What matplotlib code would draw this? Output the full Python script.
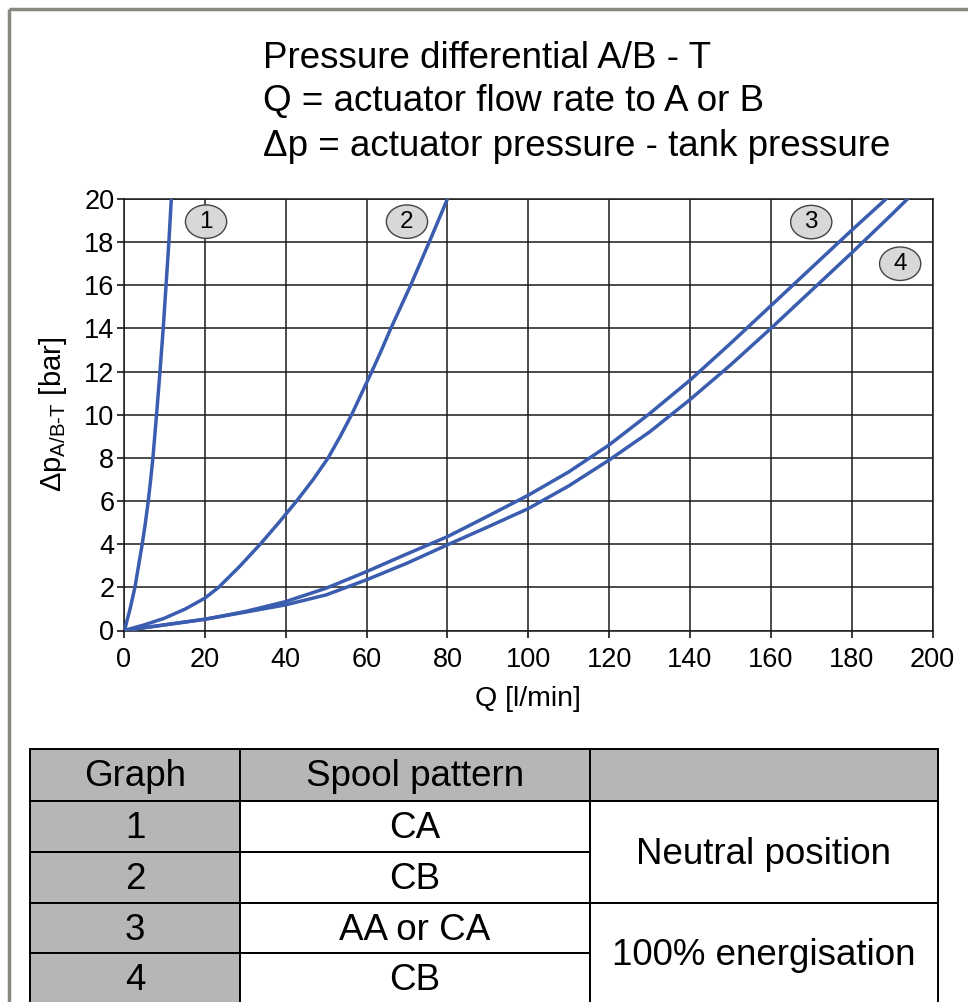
import matplotlib.pyplot as plt
from matplotlib.patches import Ellipse, Rectangle
import numpy as np

plt.rcParams['font.family'] = ['Liberation Sans', 'DejaVu Sans']
plt.rcParams['mathtext.fontset'] = 'custom'
plt.rcParams['mathtext.rm'] = 'Liberation Sans'

# curve data (Q in l/min, dp in bar)
q1 = [0, 0.4, 0.8, 1.5, 2.1, 2.7, 3.6, 4.5, 5.3, 6.0, 6.6, 7.15, 7.6, 8.05, 8.9, 9.7, 10.4, 11.1, 11.7]
p1 = [0, 0.2, 0.5, 1, 1.5, 2, 3, 4, 5, 6, 7, 8, 9, 10, 12, 14, 16, 18, 20]
q2 = [0, 5, 10, 15.2, 20, 23.4, 28.5, 33.7, 38.3, 42.7, 46.8, 50.5, 53.5, 56.3, 58.8, 61.3, 63.7, 66.0, 70.9, 75.5, 80]
p2 = [0, 0.26, 0.57, 1, 1.5, 2, 2.95, 4, 5, 6, 7, 8, 9, 10, 11, 12, 13, 14, 16, 18, 20]
q3 = [0, 5, 10, 20, 30, 40, 50, 60, 70, 80, 90, 100, 110, 120, 130, 140, 150, 160, 170, 180, 188.5]
p3 = [0, 0.13, 0.26, 0.52, 0.88, 1.34, 1.96, 2.73, 3.55, 4.35, 5.3, 6.27, 7.35, 8.6, 10.05, 11.6, 13.3, 15.05, 16.8, 18.55, 20]
q4 = [0, 5, 10, 20, 30, 40, 50, 60, 70, 80, 90, 100, 110, 120, 130, 140, 150, 160, 170, 180, 190, 193.8]
p4 = [0, 0.13, 0.26, 0.52, 0.85, 1.19, 1.65, 2.35, 3.12, 3.97, 4.8, 5.65, 6.7, 7.9, 9.2, 10.7, 12.3, 14.0, 15.75, 17.5, 19.3, 20]

label_ids = ["1", "2", "3", "4"]
label_q = [20.3, 70, 170, 192]
label_p = [18.95, 18.95, 18.93, 17.0]

title_lines = ["Pressure differential A/B - T",
               "Q = actuator flow rate to A or B",
               "\u0394p = actuator pressure - tank pressure"]

table_header = ["Graph", "Spool pattern", ""]
graph_ids = ["1", "2", "3", "4"]
spool = ["CA", "CB", "AA or CA", "CB"]
position = ["Neutral position", "100% energisation"]

W, H = 968, 1002
fig = plt.figure(figsize=(W / 100, H / 100), dpi=100)

ax = fig.add_axes([124 / W, 1 - 630.5 / H, (932.5 - 124) / W, (630.5 - 199) / H])
blue = '#3a5db0'
for q, p in [(q1, p1), (q2, p2), (q3, p3), (q4, p4)]:
    ax.plot(q, p, color=blue, lw=2.5, solid_capstyle='round', solid_joinstyle='round', zorder=3)

for t, q, p in zip(label_ids, label_q, label_p):
    ax.add_patch(Ellipse((q, p), 10.2, 1.55, facecolor='#d8d8d8', edgecolor='#444444', lw=1.0, zorder=4))
    ax.text(q, p, t, ha='center', va='center', fontsize=17.5, zorder=5)

ax.set_xlim(0, 200)
ax.set_ylim(0, 20)
ax.set_xticks(np.arange(0, 201, 20))
ax.set_yticks(np.arange(0, 21, 2))
ax.grid(True, color='#1a1a1a', lw=1.1)
for s in ax.spines.values():
    s.set_color('#1a1a1a')
    s.set_linewidth(1.1)
ax.tick_params(axis='both', labelsize=19.5, length=5, width=1.1, pad=2)
ax.tick_params(axis='x', pad=7)
ax.set_xlabel('Q [l/min]', fontsize=20.5, labelpad=9)
ax.set_ylabel(r'$\Delta$p$_{\mathregular{A/B\text{-}T}}$ [bar]', fontsize=21, labelpad=11)

# title block
for i, line in enumerate(title_lines):
    fig.text(263 / W, 1 - (58 + 44 * i) / H, line, fontsize=26.5, ha='left', va='center')

# overlay in pixel coordinates for frame and table
ov = fig.add_axes([0, 0, 1, 1], zorder=-1)
ov.set_xlim(0, W)
ov.set_ylim(H, 0)
ov.set_axis_off()
ov.add_patch(Rectangle((8.5, 8.5), W + 20, H + 20, fill=False, edgecolor='#868a82', lw=2.5))

cols = [30, 240, 590, 938]
rows = [749, 801, 852, 903, 953, 1004]
gray = '#b4b6b8'
lw = 1.4
fs = 26.5

# header
for j in range(3):
    ov.add_patch(Rectangle((cols[j], rows[0]), cols[j + 1] - cols[j], rows[1] - rows[0],
                           facecolor=gray, edgecolor='black', lw=lw))
    ov.text((cols[j] + cols[j + 1]) / 2, (rows[0] + rows[1]) / 2 + 2, table_header[j],
            ha='center', va='center', fontsize=fs)

for i in range(4):
    y0, y1 = rows[i + 1], rows[i + 2]
    ov.add_patch(Rectangle((cols[0], y0), cols[1] - cols[0], y1 - y0,
                           facecolor=gray, edgecolor='black', lw=lw))
    ov.add_patch(Rectangle((cols[1], y0), cols[2] - cols[1], y1 - y0,
                           facecolor='white', edgecolor='black', lw=lw))
    ov.text((cols[0] + cols[1]) / 2, (y0 + y1) / 2 + 2, graph_ids[i], ha='center', va='center', fontsize=fs)
    ov.text((cols[1] + cols[2]) / 2, (y0 + y1) / 2 + 2, spool[i], ha='center', va='center', fontsize=fs)

for k in range(2):
    y0, y1 = rows[1 + 2 * k], rows[3 + 2 * k]
    ov.add_patch(Rectangle((cols[2], y0), cols[3] - cols[2], y1 - y0,
                           facecolor='white', edgecolor='black', lw=lw))
    ov.text((cols[2] + cols[3]) / 2, (y0 + y1) / 2 + 2, position[k], ha='center', va='center', fontsize=fs)

fig.savefig('out.png', dpi=100)
